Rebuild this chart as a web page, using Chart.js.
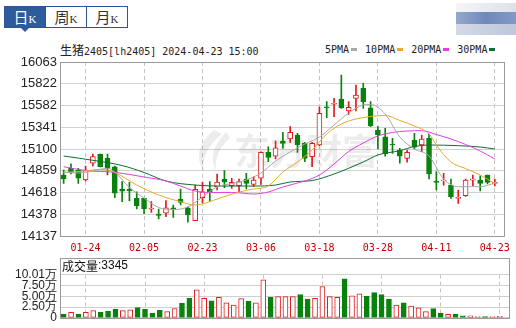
<!DOCTYPE html>
<html lang="zh">
<head>
  <meta charset="UTF-8">
  <title>生猪2405 日K</title>
  <script src="https://cdn.jsdelivr.net/npm/chart.js"></script>
  <style>
    body {
      margin: 0;
      width: 516px;
      height: 328px;
      overflow: hidden;
      background: #fff;
      position: relative;
      font-family: 'Noto Sans CJK SC', sans-serif;
    }
    #tabs {
      position: absolute;
      left: 4px;
      top: 6px;
      display: flex;
      border: 1px solid #2c5597;
    }
    .tab {
      width: 40px;
      height: 20px;
      line-height: 20px;
      text-align: center;
      font-size: 15px;
      color: #333;
      background: #fff;
    }
    .tab + .tab { border-left: 1px solid #2c5597; }
    .tab span {
      font-family: 'Liberation Serif', serif;
      font-size: 11px;
    }
    .tab.on { background: #2e5b9c; color: #fff; }
    #arrow {
      position: absolute;
      left: 21px;
      top: 28px;
      width: 0;
      height: 0;
      border-left: 4px solid transparent;
      border-right: 4px solid transparent;
      border-top: 4px solid #2e5b9c;
    }
    #blur1, #blur2, #blur3 { position: absolute; left: 456px; width: 60px; }
    #blur1 { top: 3px; height: 9px; background: linear-gradient(to right, #f4f5f8, #dde2ea); }
    #blur2 { top: 12px; height: 12px; background: linear-gradient(to right, #96a9cd, #6f89bb 50%, #8299c5); }
    #blur3 { top: 24px; height: 11px; background: linear-gradient(to right, #d3d9e5, #bdc8db); }
    #title, #legend {
      position: absolute;
      top: 43px;
      height: 14px;
      line-height: 14px;
      font-family: 'DejaVu Sans Mono', monospace;
      font-size: 10px;
      color: #222;
      white-space: nowrap;
    }
    #title { left: 60px; }
    #title .cn { font-family: 'Noto Sans CJK SC'; font-size: 12px; }
    #legend { left: 325px; }
    #legend i {
      display: inline-block;
      width: 6px;
      height: 3px;
      margin: 0 8px 2px 2px;
      vertical-align: middle;
    }
    canvas { position: absolute; left: 0; }
    #main { top: 40px; }
    #vol { top: 255px; }
  </style>
</head>
<body>

<div id="tabs">
  <div class="tab on">日<span>K</span></div>
  <div class="tab">周<span>K</span></div>
  <div class="tab">月<span>K</span></div>
</div>
<div id="arrow"></div>
<div id="blur1"></div><div id="blur2"></div><div id="blur3"></div>

<div id="title"><span class="cn">生猪</span>2405[lh2405] 2024-04-23 15:00</div>
<div id="legend">5PMA<i style="background:#a8a8a8"></i>10PMA<i style="background:#e8a92a"></i>20PMA<i style="background:#e33ee3"></i>30PMA<i style="background:#0f6e35"></i></div>

<canvas id="main" width="516" height="220"></canvas>
<canvas id="vol" width="516" height="73"></canvas>

<script>
  // K线数据 (01-19 ~ 04-23, 60个交易日)
  const opens = [14812, 14886, 14867, 14757, 14942, 15045, 14997, 14904, 14657, 14657,
                 14554, 14554, 14433, 14380, 14391, 14450, 14546, 14450, 14306, 14561,
                 14654, 14683, 14765, 14694, 14694, 14768, 14709, 14776, 15063, 15022,
                 15189, 15211, 15255, 15163, 15015, 15144, 15568, 15595, 15653, 15521,
                 15661, 15772, 15557, 15310, 15236, 15152, 15089, 14997, 15200, 15144,
                 15218, 14746, 14749, 14701, 14554, 14583, 14754, 14757, 14812, 14720];
  const closes = [14768, 14842, 14776, 14867, 15015, 14904, 14886, 14610, 14632, 14635,
                  14472, 14436, 14444, 14366, 14450, 14436, 14510, 14369, 14654, 14627,
                  14627, 14735, 14735, 14731, 14738, 14720, 14757, 15063, 15008, 15114,
                  15163, 15285, 15144, 14997, 15163, 15495, 15557, 15606, 15557, 15562,
                  15698, 15624, 15358, 15255, 15045, 15144, 15022, 15063, 15119, 15211,
                  14823, 14731, 14757, 14572, 14565, 14757, 14768, 14720, 14731, 14731];
  const highs = [14867, 14937, 14886, 14912, 15045, 15045, 15045, 14912, 14738, 14731,
                 14627, 14554, 14517, 14436, 14528, 14480, 14657, 14461, 14701, 14731,
                 14738, 14823, 14860, 14776, 14768, 14831, 14793, 15070, 15125, 15189,
                 15285, 15347, 15274, 15174, 15174, 15568, 15624, 15661, 15919, 15624,
                 15808, 15827, 15624, 15347, 15329, 15218, 15108, 15089, 15274, 15255,
                 15266, 14849, 14831, 14768, 14646, 14768, 14812, 14804, 14812, 14768];
  const lows = [14720, 14823, 14720, 14746, 14912, 14901, 14812, 14561, 14517, 14524,
                14436, 14384, 14399, 14325, 14351, 14344, 14480, 14289, 14306, 14506,
                14517, 14646, 14672, 14665, 14627, 14657, 14683, 14709, 14959, 14989,
                15108, 15174, 15063, 14959, 14904, 15136, 15446, 15457, 15550, 15484,
                15521, 15550, 15347, 15100, 15022, 15052, 14942, 14953, 15100, 15070,
                14768, 14646, 14701, 14554, 14499, 14576, 14694, 14635, 14713, 14690];

  // 成交量 (手) 与涨跌标记 (1 = 红, 0 = 绿)
  const volumes = [8600, 12900, 8600, 12900, 16600, 12900, 15100, 19400, 16600, 18700,
                   23700, 19400, 10800, 17200, 14400, 21600, 33500, 45300, 64700, 45300,
                   39500, 47400, 34500, 29500, 44600, 38100, 34500, 88000, 47400, 48900,
                   48900, 48900, 53900, 43100, 45300, 72600, 48900, 47400, 90500, 51000,
                   55400, 49600, 58200, 53900, 43100, 29500, 34500, 27300, 23000, 14400,
                   21600, 10800, 8000, 8600, 4300, 4300, 3000, 3000, 3000, 3345];
  const volUp = [0, 1, 0, 1, 1, 0, 0, 0, 1, 1,
                 0, 0, 0, 0, 1, 1, 0, 0, 1, 1,
                 0, 1, 1, 1, 1, 0, 1, 1, 0, 1,
                 1, 1, 0, 0, 1, 1, 1, 1, 0, 1,
                 1, 0, 0, 0, 0, 1, 0, 1, 1, 1,
                 0, 0, 1, 0, 0, 1, 1, 0, 1, 1];

  // 均线 [K线序号, 数值]
  const ma5 = [[0, 14845], [2, 14834], [4, 14856], [6, 14886], [7, 14845], [9, 14674], [11, 14557],
               [13, 14452], [15, 14430], [17, 14458], [19, 14569], [21, 14680], [23, 14718], [25, 14757],
               [27, 14834], [29, 14967], [31, 15067], [33, 15155], [35, 15233], [37, 15365], [39, 15498],
               [41, 15587], [42, 15593], [44, 15487], [46, 15233], [48, 15100], [50, 15022], [52, 14768],
               [54, 14683], [57, 14683], [59, 14720]];
  const ma10 = [[0, 14840], [3, 14856], [5, 14875], [7, 14840], [10, 14701], [13, 14591], [16, 14517],
                [18, 14480], [21, 14546], [24, 14624], [26, 14657], [28, 14690], [30, 14845], [32, 14956],
                [34, 15089], [36, 15266], [38, 15377], [40, 15432], [42, 15460], [44, 15471], [46, 15415],
                [48, 15355], [50, 15266], [51, 15144], [53, 14956], [55, 14884], [57, 14812], [59, 14718]];
  const ma20 = [[0, 14904], [3, 14862], [7, 14842], [11, 14790], [14, 14746], [16, 14690], [18, 14635],
                [20, 14619], [23, 14619], [26, 14602], [28, 14624], [30, 14680], [33, 14746], [35, 14812],
                [37, 14934], [39, 15072], [41, 15166], [43, 15244], [45, 15283], [47, 15299], [49, 15303],
                [51, 15260], [53, 15211], [55, 15150], [57, 15078], [59, 14989]];
  const ma30 = [[0, 15022], [4, 14975], [8, 14917], [11, 14840], [14, 14746], [18, 14701], [22, 14690],
                [26, 14690], [29, 14701], [31, 14735], [34, 14751], [37, 14823], [39, 14886], [41, 14956],
                [43, 15034], [46, 15081], [48, 15128], [50, 15144], [54, 15137], [57, 15122], [59, 15100]];

  const tickIdx = [3, 11, 19, 27, 35, 43, 51, 59];
  const dateLabels = ['01-24', '02-05', '02-23', '03-06', '03-18', '03-28', '04-11', '04-23'];
  const priceTicks = [16063, 15822, 15582, 15341, 15100, 14859, 14618, 14378, 14137];
  const volTicks = [0, 25000, 50000, 75000, 100100];
  const volLabels = ['0', '2.50万', '5.00万', '7.50万', '10.01万'];

  const RED = '#e01b1b';
  const GREEN = '#08820c';
  const idx = opens.map((_, i) => i);
  const up = idx.map(i => closes[i] >= opens[i]);

  const maLine = (pts, color) => ({
    type: 'line',
    data: pts.map(p => ({ x: p[0], y: p[1] })),
    borderColor: color,
    borderWidth: 1,
    pointRadius: 0,
    cubicInterpolationMode: 'monotone',
    order: 1
  });

  const xAxis = (showLabels) => ({
    type: 'linear',
    min: -0.5,
    max: 60.24,
    offset: false,
    grid: { color: '#c4c4c4', offset: false, drawTicks: false },
    border: { display: false, dash: [4, 3] },
    afterBuildTicks: s => { s.ticks = tickIdx.map(v => ({ value: v })); },
    afterFit: s => { s.height = showLabels ? 24 : 0; },
    ticks: {
      display: showLabels,
      color: '#c00000',
      font: { family: 'DejaVu Sans Mono', size: 10 },
      padding: 6,
      maxRotation: 0,
      autoSkip: false,
      callback: v => dateLabels[tickIdx.indexOf(v)]
    }
  });

  const boxPlugin = {
    id: 'box',
    beforeDatasetsDraw(chart, args, opts) {
      const a = chart.chartArea;
      const ctx = chart.ctx;
      ctx.save();
      if (opts.watermark) {
        ctx.fillStyle = 'rgba(0,0,0,0.075)';
        ctx.font = 'bold 36px "Noto Sans CJK SC"';
        ctx.textBaseline = 'middle';
        ctx.fillText('东方财富', 234, 111);
        ctx.beginPath();
        ctx.moveTo(214, 90);
        ctx.quadraticCurveTo(190, 110, 204, 132);
        ctx.quadraticCurveTo(200, 112, 222, 94);
        ctx.closePath();
        ctx.moveTo(226, 92);
        ctx.quadraticCurveTo(206, 114, 216, 130);
        ctx.quadraticCurveTo(214, 112, 230, 98);
        ctx.closePath();
        ctx.fill();
      }
      ctx.strokeStyle = '#9a9a9a';
      ctx.lineWidth = 1;
      const top = a.top - (opts.header || 0);
      ctx.strokeRect(Math.round(a.left) + 0.5, Math.round(top) + 0.5,
                     Math.round(a.right - a.left), Math.round(a.bottom - top));
      if (opts.header) {
        ctx.fillStyle = '#111';
        ctx.textBaseline = 'middle';
        ctx.font = '12px "Noto Sans CJK SC"';
        ctx.fillText('成交量', a.left + 2, top + 8.5);
        ctx.font = '12px "Liberation Sans"';
        ctx.fillText(':' + volumes[volumes.length - 1], a.left + 38, top + 8.5);
      }
      ctx.restore();
    }
  };

  new Chart(document.getElementById('main'), {
    type: 'bar',
    data: {
      datasets: [
        maLine(ma5, '#a8a8a8'),
        maLine(ma10, '#e8a92a'),
        maLine(ma20, '#e33ee3'),
        maLine(ma30, '#0f6e35'),
        {
          data: idx.map(i => ({ x: i, y: [opens[i], closes[i]] })),
          backgroundColor: idx.map(i => up[i] ? '#fff' : GREEN),
          borderColor: idx.map(i => up[i] ? RED : GREEN),
          borderWidth: 1,
          borderSkipped: false,
          barThickness: 5,
          grouped: false,
          order: 2
        },
        {
          data: idx.map(i => ({ x: i, y: [lows[i], highs[i]] })),
          backgroundColor: idx.map(i => up[i] ? RED : GREEN),
          borderWidth: 0,
          barThickness: 1,
          grouped: false,
          order: 3
        }
      ]
    },
    options: {
      responsive: false,
      animation: false,
      layout: { padding: { top: 22, right: 7, left: 0, bottom: 0 } },
      plugins: { legend: { display: false }, tooltip: { enabled: false }, box: { watermark: true } },
      scales: {
        x: xAxis(true),
        y: {
          min: 14137,
          max: 16063,
          afterBuildTicks: s => { s.ticks = priceTicks.map(v => ({ value: v })); },
          afterFit: s => { s.width = 60; },
          grid: { color: '#d2d2d2', drawTicks: false },
          border: { display: false },
          ticks: {
            color: '#222',
            font: { family: 'Liberation Sans', size: 13 },
            padding: 3,
            autoSkip: false,
            callback: v => String(v)
          }
        }
      }
    },
    plugins: [boxPlugin]
  });

  new Chart(document.getElementById('vol'), {
    type: 'bar',
    data: {
      datasets: [{
        data: idx.map(i => ({ x: i, y: volumes[i] })),
        backgroundColor: idx.map(i => volUp[i] ? '#fff' : GREEN),
        borderColor: idx.map(i => volUp[i] ? RED : GREEN),
        borderWidth: 1,
        borderSkipped: false,
        barThickness: 5,
        grouped: false
      }]
    },
    options: {
      responsive: false,
      animation: false,
      layout: { padding: { top: 19.6, right: 7, left: 0, bottom: 7 } },
      plugins: { legend: { display: false }, tooltip: { enabled: false }, box: { header: 17 } },
      scales: {
        x: xAxis(false),
        y: {
          min: 0,
          max: 100100,
          afterBuildTicks: s => { s.ticks = volTicks.map(v => ({ value: v })); },
          afterFit: s => { s.width = 60; },
          grid: { color: '#cfcfcf', drawTicks: false },
          border: { display: false },
          ticks: {
            color: '#222',
            font: { family: 'Liberation Sans', size: 12 },
            padding: 3,
            autoSkip: false,
            callback: v => volLabels[volTicks.indexOf(v)]
          }
        }
      }
    },
    plugins: [boxPlugin]
  });
</script>
</body>
</html>
